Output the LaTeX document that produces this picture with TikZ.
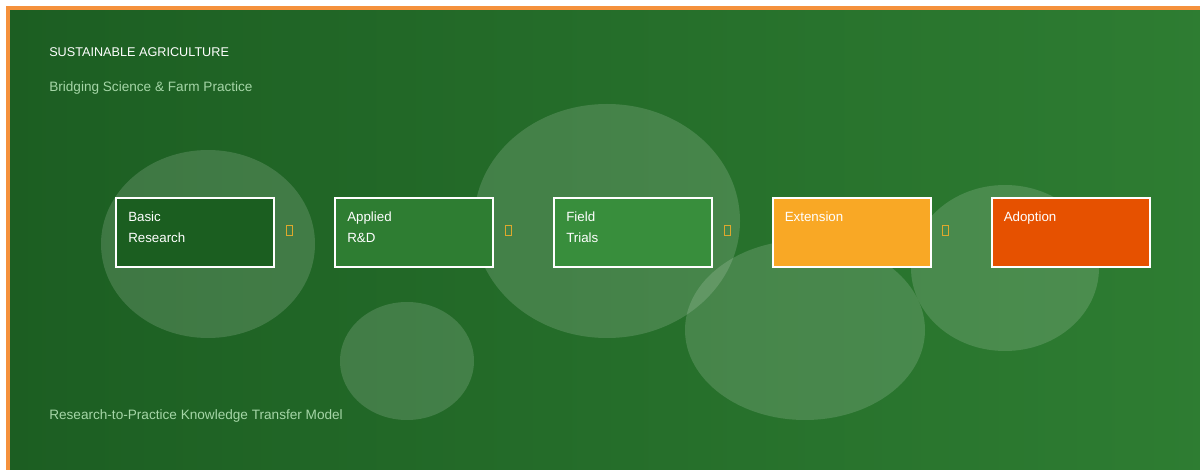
\documentclass[tikz,border=0pt]{standalone}
\usepackage{fontspec}
\setmainfont{Liberation Sans}
\usetikzlibrary{positioning}
\definecolor{bgleft}{RGB}{28,94,34}
\definecolor{bgright}{RGB}{46,125,50}
\definecolor{frameorange}{RGB}{245,145,60}
\definecolor{stageA}{RGB}{27,94,32}
\definecolor{stageB}{RGB}{46,125,50}
\definecolor{stageC}{RGB}{56,142,60}
\definecolor{stageD}{RGB}{249,168,37}
\definecolor{stageE}{RGB}{230,81,0}
\definecolor{paletext}{RGB}{165,214,167}
\definecolor{tofu}{RGB}{222,168,45}

\begin{document}
\begin{tikzpicture}[x=0.75pt, y=-0.75pt]
				\tikzstyle{stagenode}=[draw=white, line width=1.5pt, minimum width=118.5pt, minimum height=51.75pt, inner sep=0pt]
				\tikzstyle{stagetext}=[anchor=base west, align=left, inner sep=0pt, text=white, font=\fontsize{10}{15.75}\selectfont]
				\tikzstyle{headtext}=[anchor=base west, inner sep=0pt, text=white, font=\fontsize{9.5}{11}\selectfont]
				\tikzstyle{subtext}=[anchor=base west, inner sep=0pt, text=paletext, font=\fontsize{10.2}{12}\selectfont]
				\tikzstyle{arrownode}=[draw=tofu, line width=0.75pt, minimum width=4.5pt, minimum height=7.5pt, inner sep=0pt]
				\tikzstyle{blob}=[fill=white, opacity=0.15]
				
				\useasboundingbox (0,0) rectangle (1200,470);
				\shade[left color=bgleft, right color=bgright] (8,8) rectangle (1212,482);
				\draw[frameorange, line width=3pt] (8,8) rectangle (1212,482);
				
				% soft circles behind the stages
				\fill[blob] (208,244) ellipse [x radius=107*0.75pt, y radius=94*0.75pt];
				\fill[blob] (407,361) ellipse [x radius=67*0.75pt, y radius=59*0.75pt];
				\fill[blob] (607,221) ellipse [x radius=133*0.75pt, y radius=117*0.75pt];
				\fill[blob] (805,330) ellipse [x radius=120*0.75pt, y radius=90*0.75pt];
				\fill[blob] (1005,268) ellipse [x radius=94*0.75pt, y radius=83*0.75pt];
				
				\node (title) at (49,57) [headtext] {SUSTAINABLE AGRICULTURE};
				\node (subtitle) at (49,92) [subtext] {Bridging Science \& Farm Practice};
				\node (footer) at (49,419) [subtext] {Research-to-Practice Knowledge Transfer Model};
				
				\node (s1) at (195,232.5) [stagenode, fill=stageA] {};
				\node (s2) at (414,232.5) [stagenode, fill=stageB] {};
				\node (s3) at (633,232.5) [stagenode, fill=stageC] {};
				\node (s4) at (851.5,232.5) [stagenode, fill=stageD] {};
				\node (s5) at (1070.5,232.5) [stagenode, fill=stageE] {};
				
				% base of a two-line label is its last line
				\node (s1T) at ([shift={(13,46)}]s1.north west) [stagetext] {Basic\\Research};
				\node (s2T) at ([shift={(13,46)}]s2.north west) [stagetext] {Applied\\R\&D};
				\node (s3T) at ([shift={(13,46)}]s3.north west) [stagetext] {Field\\Trials};
				\node (s4T) at ([shift={(13,25)}]s4.north west) [stagetext] {Extension};
				\node (s5T) at ([shift={(13,25)}]s5.north west) [stagetext] {Adoption};
				
				\node (a12) at ([shift={(14,-2)}]s1.east) [arrownode] {};
				\node (a23) at ([shift={(14,-2)}]s2.east) [arrownode] {};
				\node (a34) at ([shift={(14,-2)}]s3.east) [arrownode] {};
				\node (a45) at ([shift={(14,-2)}]s4.east) [arrownode] {};
				\end{tikzpicture}
\end{document}
